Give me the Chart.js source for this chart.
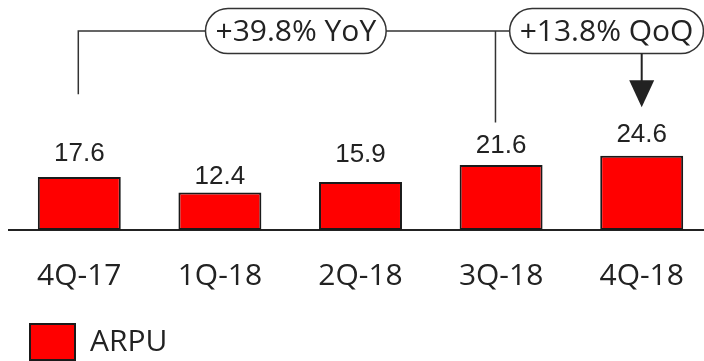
<!DOCTYPE html>
<html>
<head>
<meta charset="utf-8">
<script src="https://cdn.jsdelivr.net/npm/chart.js@4/dist/chart.umd.min.js"></script>
<style>
  html, body { margin: 0; padding: 0; background: #fff; overflow: hidden; }
  #wrap { width: 712px; height: 361px; }
</style>
</head>
<body>
<div id="wrap"><canvas id="chart"></canvas></div>
<script>
var quarters = ["4Q-17", "1Q-18", "2Q-18", "3Q-18", "4Q-18"];
var arpu = [17.6, 12.4, 15.9, 21.6, 24.6];
var seriesName = "ARPU";
var yoyText = "+39.8% YoY";
var qoqText = "+13.8% QoQ";

// gap between bar top and its value label (px), as in the source picture
var labelGap = [16, 9, 20, 12, 14];

var INK = "#222222";
var LINE = "#333333";

// draws the value labels above the bars
var valueLabels = {
  id: "valueLabels",
  afterDatasetsDraw: function (chart) {
    var ctx = chart.ctx;
    var meta = chart.getDatasetMeta(0);
    ctx.save();
    ctx.font = "26px 'Liberation Sans', Arial, sans-serif";
    ctx.fillStyle = INK;
    ctx.textAlign = "center";
    ctx.textBaseline = "alphabetic";
    meta.data.forEach(function (bar, i) {
      ctx.fillText(String(arpu[i]), bar.x, bar.y - labelGap[i]);
    });
    ctx.restore();
  },
};

function pill(ctx, cx, cy, text) {
  ctx.font = "30px 'Open Sans', sans-serif";
  var w = ctx.measureText(text).width + 20;
  var h = 45;
  var x = cx - w / 2, y = cy - h / 2, r = h / 2;
  ctx.beginPath();
  ctx.moveTo(x + r, y);
  ctx.lineTo(x + w - r, y);
  ctx.arc(x + w - r, cy, r, -Math.PI / 2, Math.PI / 2);
  ctx.lineTo(x + r, y + h);
  ctx.arc(x + r, cy, r, Math.PI / 2, Math.PI * 1.5);
  ctx.closePath();
  ctx.fillStyle = "#fff";
  ctx.fill();
  ctx.strokeStyle = LINE;
  ctx.lineWidth = 1.5;
  ctx.stroke();
  ctx.fillStyle = INK;
  ctx.textAlign = "center";
  ctx.textBaseline = "middle";
  ctx.fillText(text, cx, cy + 1);
  return { left: x, right: x + w, bottom: y + h };
}

// YoY / QoQ callouts
var callouts = {
  id: "callouts",
  afterDraw: function (chart) {
    var ctx = chart.ctx;
    var xs = chart.scales.x;
    var ys = chart.scales.y;
    var lineY = ys.getPixelForValue(66);
    var x0 = xs.getPixelForValue(0) - 1;
    var x3 = xs.getPixelForValue(2.96);
    var x4 = xs.getPixelForValue(4);
    ctx.save();
    ctx.strokeStyle = LINE;
    ctx.lineWidth = 1.5;
    ctx.beginPath();
    ctx.moveTo(x0, ys.getPixelForValue(45));
    ctx.lineTo(x0, lineY);
    ctx.lineTo(xs.getPixelForValue(3.7), lineY);
    ctx.moveTo(x3, lineY);
    ctx.lineTo(x3, ys.getPixelForValue(35.7));
    ctx.stroke();

    pill(ctx, xs.getPixelForValue(1.54), lineY, yoyText);
    var q = pill(ctx, xs.getPixelForValue(3.75), lineY, qoqText);

    // arrow to the last bar
    var tip = ys.getPixelForValue(40.7);
    ctx.strokeStyle = INK;
    ctx.lineWidth = 2;
    ctx.beginPath();
    ctx.moveTo(x4, q.bottom);
    ctx.lineTo(x4, tip - 24);
    ctx.stroke();
    ctx.fillStyle = INK;
    ctx.beginPath();
    ctx.moveTo(x4 - 12.5, tip - 27);
    ctx.lineTo(x4 + 12.5, tip - 27);
    ctx.lineTo(x4, tip);
    ctx.closePath();
    ctx.fill();
    ctx.restore();
  },
};

new Chart(document.getElementById("chart"), {
  type: "bar",
  data: {
    labels: quarters,
    datasets: [
      {
        label: seriesName,
        data: arpu,
        backgroundColor: "#ff0000",
        borderColor: "#1a1a1a",
        borderWidth: 2,
        borderSkipped: false,
        categoryPercentage: 1,
        barPercentage: 0.59,
      },
    ],
  },
  options: {
    responsive: true,
    maintainAspectRatio: false,
    animation: false,
    events: [],
    layout: { padding: { left: 9, right: 0, top: 0, bottom: -9 } },
    plugins: {
      tooltip: { enabled: false },
      legend: {
        display: true,
        position: "bottom",
        align: "start",
        labels: {
          boxWidth: 45,
          boxHeight: 36,
          padding: 21,
          color: INK,
          font: { family: "'Open Sans', sans-serif", size: 30 },
        },
      },
    },
    scales: {
      x: {
        grid: { display: false, drawTicks: false },
        border: { display: true, color: "#222", width: 2 },
        ticks: {
          color: INK,
          padding: 28,
          font: { family: "'Open Sans', sans-serif", size: 30 },
          maxRotation: 0,
          autoSkip: false,
        },
        afterFit: function (scale) {
          scale.height = 73;
        },
      },
      y: {
        display: false,
        min: 0,
        max: 76.3,
      },
    },
  },
  plugins: [valueLabels, callouts],
});
</script>
</body>
</html>
